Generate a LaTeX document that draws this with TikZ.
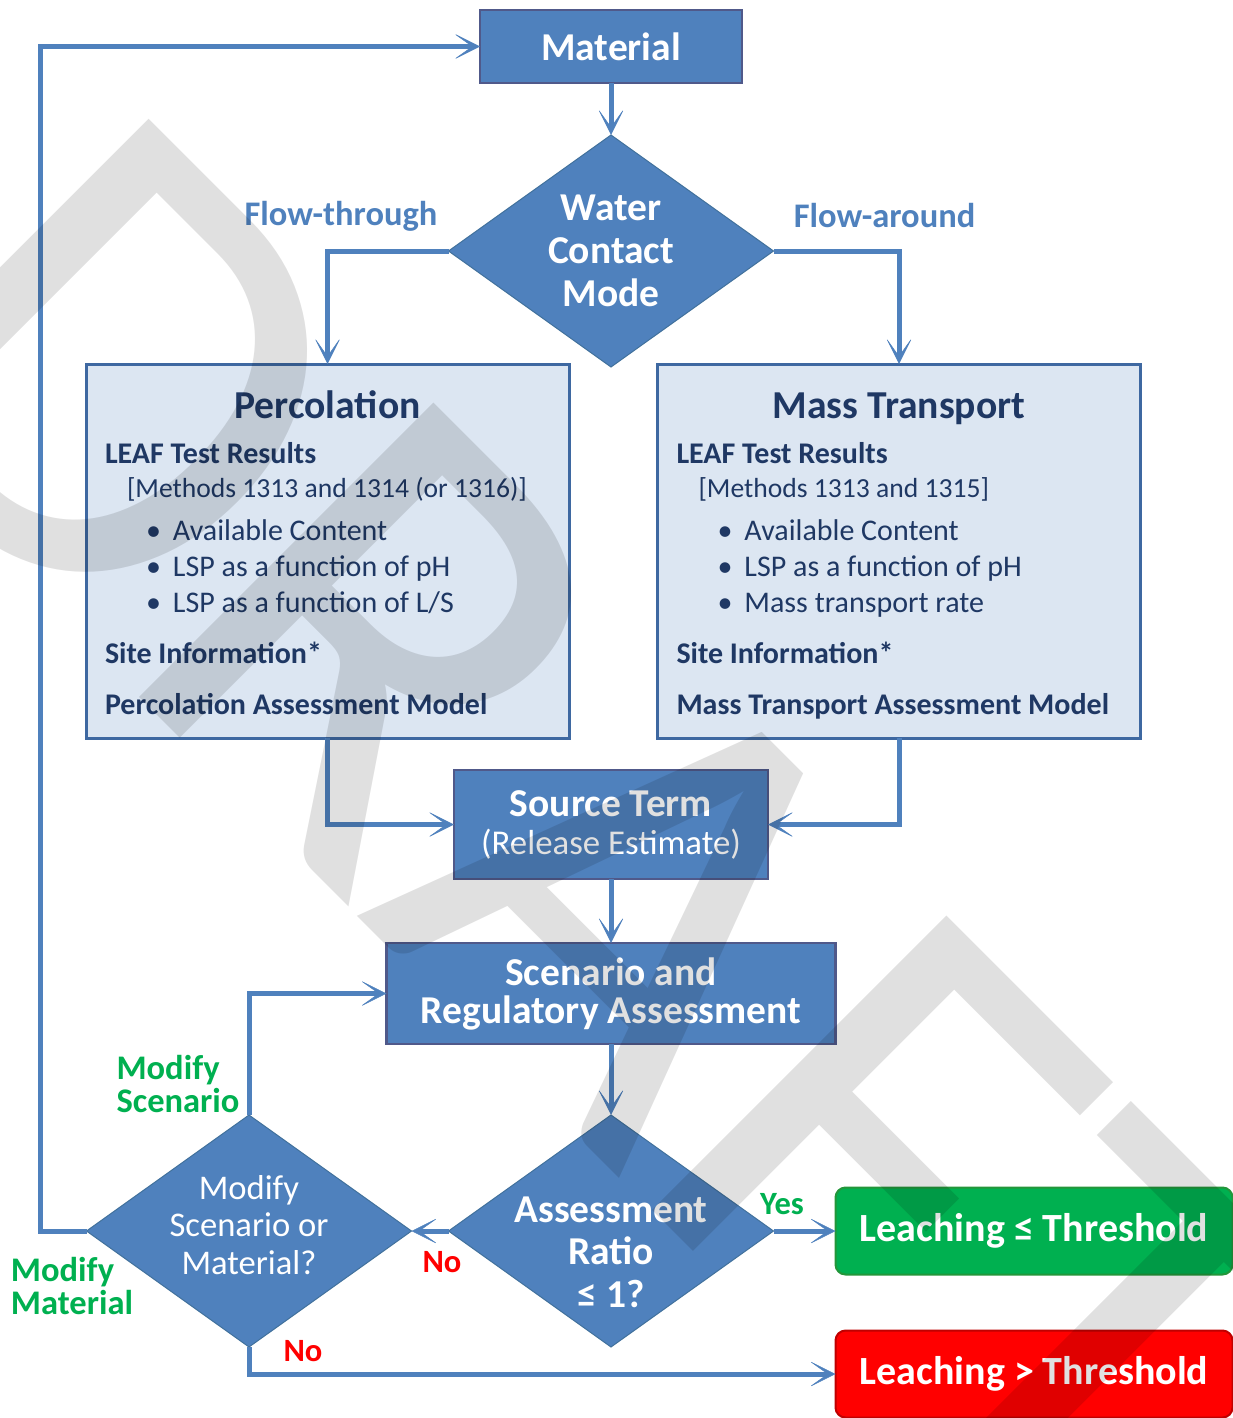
\documentclass[tikz,border=0pt]{standalone}
\usepackage{fontspec}
\setmainfont{Carlito}
\usepackage{xcolor}
\usepackage{tikz}
\usetikzlibrary{shapes.geometric,arrows.meta,positioning,calc}

\definecolor{stepblue}{HTML}{4F81BD}
\definecolor{stepline}{HTML}{50598A}
\definecolor{diamline}{HTML}{41719C}
\definecolor{panelfill}{HTML}{DCE6F2}
\definecolor{panelline}{HTML}{3E68A1}
\definecolor{panelink}{HTML}{1F3864}
\definecolor{okgreen}{HTML}{00B050}
\definecolor{okline}{HTML}{23963A}
\definecolor{badred}{HTML}{FF0000}
\definecolor{badline}{HTML}{C00000}

\newcommand{\panelfont}[2]{\fontsize{#1}{#2}\selectfont\spaceskip=0pt\xspaceskip=0pt\relax}
\newcommand{\paneltitle}[1]{{\centering\panelfont{39.6}{40}\bfseries #1\par}}
\newcommand{\panelhead}[2]{\par\panelfont{30}{#1}\bfseries #2}
\newcommand{\panelmeth}[1]{\par\panelfont{27.6}{34.2}\mdseries\hspace*{22pt}#1}
\newcommand{\panelitem}[2]{\par\panelfont{30}{#1}\mdseries\hspace*{41pt}\makebox[27pt][l]{\textbullet}#2}

\begin{document}
\begin{tikzpicture}[
  x=1pt, y=-1pt,
  every node/.style={font=\fontsize{39.5}{43}\selectfont, inner sep=0pt, outer sep=0pt},
  stepbox/.style={rectangle, draw=stepline, line width=2.5pt, fill=stepblue, text=white,
                  align=center, font=\fontsize{39.5}{38}\selectfont\bfseries},
  decision/.style={diamond, aspect=1.4, draw=diamline, line width=1pt, fill=stepblue,
                   text=white, align=center, minimum width=325pt, minimum height=232pt},
  decisiontext/.style={text=white, align=center},
  panel/.style={rectangle, draw=panelline, line width=3pt, fill=panelfill,
                minimum width=483pt, minimum height=374pt},
  paneltext/.style={text width=445pt, text=panelink, anchor=base west,
                    execute at begin node={\setlength{\parindent}{0pt}\raggedright}},
  result/.style={rectangle, rounded corners=10pt, line width=2pt, text=white,
                 minimum width=397pt, minimum height=87pt, font=\fontsize{40}{40}\selectfont\bfseries},
  flowlbl/.style={text=stepblue, font=\fontsize{34.5}{34.5}\selectfont\bfseries},
  modlbl/.style={text=okgreen, align=left, font=\fontsize{34.5}{33.5}\selectfont\bfseries},
  answer/.style={font=\fontsize{32.5}{32.5}\selectfont\bfseries},
  arrow/.style={-{Stealth[length=27pt, width=27pt, inset=19pt, line width=0.5pt]},
                line width=5pt, draw=stepblue}
]
  \useasboundingbox (0,0) rectangle (1233,1418);

  \node[stepbox, minimum width=262pt, minimum height=73pt] (mat) at (611,46.5) {Material};
  \node[decision, below=52pt of mat, font=\fontsize{39.5}{43}\selectfont\bfseries] (wcm) {Water\\Contact\\Mode};
  \node[panel] (perc) at (327.5,551) {};
  \node[panel] (mass) at (899,551) {};
  \node[stepbox, minimum width=314pt, minimum height=109pt, below=403pt of wcm] (src)
    {Source Term\\{\mdseries\fontsize{34.8}{38.5}\selectfont(Release Estimate)}};
  \node[stepbox, minimum width=449pt, minimum height=101pt, below=64pt of src] (scen)
    {Scenario and\\Regulatory Assessment};
  \node[decision, below=71pt of scen] (ar) {};
  \node[decisiontext, font=\fontsize{39.5}{42.5}\selectfont\bfseries] (artext)
    at ([yshift=-21pt]ar.center) {Assessment\\Ratio\\≤ 1?};
  \node[decision, left=37pt of ar] (mod) {};
  \node[decisiontext, font=\fontsize{34.6}{37.5}\selectfont] (modtext)
    at ([yshift=6pt]mod.center) {Modify\\Scenario or\\Material?};
  \node[result, fill=okgreen, draw=okline, right=62pt of ar] (low) {Leaching ≤ Threshold};
  \node[result, fill=badred, draw=badline, below=56pt of low] (high) {Leaching > Threshold};

  \node[paneltext] (perctext) at ([shift={(19pt,-54pt)}]perc.north west) {%
    \paneltitle{Percolation}
    \panelhead{45.5}{LEAF Test Results}
    \panelmeth{[Methods 1313 and 1314 (or 1316)]}
    \panelitem{43}{Available Content}
    \panelitem{36}{LSP as a function of pH}
    \panelitem{36}{LSP as a function of L/S}
    \panelhead{50.8}{Site Information*}
    \panelhead{51}{Percolation Assessment Model}\par};
  \node[paneltext] (masstext) at ([shift={(19pt,-54pt)}]mass.north west) {%
    \paneltitle{Mass Transport}
    \panelhead{45.5}{LEAF Test Results}
    \panelmeth{[Methods 1313 and 1315]}
    \panelitem{43}{Available Content}
    \panelitem{36}{LSP as a function of pH}
    \panelitem{36}{Mass transport rate}
    \panelhead{50.8}{Site Information*}
    \panelhead{51}{Mass Transport Assessment Model}\par};

  \node[flowlbl] (fthru) at (341,216) {Flow-through};
  \node[flowlbl] (farnd) at (884.5,216) {Flow-around};
  \node[modlbl] (modscen) at (178,1084) {Modify\\Scenario};
  \node[modlbl] (modmat) at (72,1286) {Modify\\Material};
  \node[answer, text=okgreen] (yes) at (782,1204) {Yes};
  \node[answer, text=badred] (noleft) at (442,1262.5) {No};
  \node[answer, text=badred] (nodown) at (303,1351) {No};

  \draw[arrow] (mat) -- (wcm);
  \draw[arrow] (wcm.west) -| (perc.north);
  \draw[arrow] (wcm.east) -| (mass.north);
  \draw[arrow] (perc.south) |- (src.west);
  \draw[arrow] (mass.south) |- (src.east);
  \draw[arrow] (src) -- (scen);
  \draw[arrow] (scen) -- (ar);
  \draw[arrow] (ar.east) -- (low.west);
  \draw[arrow] (ar.west) -- (mod.east);
  \draw[arrow] (mod.north) |- (scen.west);
  \draw[arrow] (mod.west) -- ++(-46,0) |- (mat.west);
  \draw[arrow] (mod.south) |- (high.west);

  \begin{scope}
    \clip (0,0) rectangle (1233,1418);
    \node[rotate=-45, anchor=base west, text=black, text opacity=0.12,
          font=\fontsize{649}{649}\selectfont] (draft) at (-176,382.6) {DRAFT};
  \end{scope}
\end{tikzpicture}
\end{document}
